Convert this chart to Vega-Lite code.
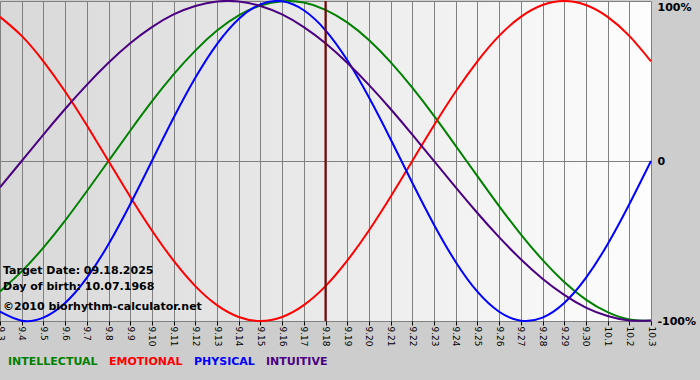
{
  "$schema": "https://vega.github.io/schema/vega-lite/v6.json",
  "width": 651,
  "height": 320,
  "autosize": {"type": "none"},
  "padding": {"left": 0, "top": 1, "right": 49, "bottom": 59},
  "background": "#cdcdcd",
  "view": {
    "stroke": null,
    "fill": {"gradient": "linear", "x1": 0, "y1": 0, "x2": 1, "y2": 0, "stops": [{"offset": 0, "color": "#d8d8d8"}, {"offset": 1, "color": "#fdfdfd"}]}
  },
  "config": {"font": "DejaVu Sans"},
  "datasets": {
    "bio": [
      {"date": "2025-09-03", "rhythm": "INTELLECTUAL", "value": -0.815},
      {"date": "2025-09-04", "rhythm": "INTELLECTUAL", "value": -0.690},
      {"date": "2025-09-05", "rhythm": "INTELLECTUAL", "value": -0.541},
      {"date": "2025-09-06", "rhythm": "INTELLECTUAL", "value": -0.372},
      {"date": "2025-09-07", "rhythm": "INTELLECTUAL", "value": -0.189},
      {"date": "2025-09-08", "rhythm": "INTELLECTUAL", "value": 0},
      {"date": "2025-09-09", "rhythm": "INTELLECTUAL", "value": 0.189},
      {"date": "2025-09-10", "rhythm": "INTELLECTUAL", "value": 0.372},
      {"date": "2025-09-11", "rhythm": "INTELLECTUAL", "value": 0.541},
      {"date": "2025-09-12", "rhythm": "INTELLECTUAL", "value": 0.690},
      {"date": "2025-09-13", "rhythm": "INTELLECTUAL", "value": 0.815},
      {"date": "2025-09-14", "rhythm": "INTELLECTUAL", "value": 0.910},
      {"date": "2025-09-15", "rhythm": "INTELLECTUAL", "value": 0.972},
      {"date": "2025-09-16", "rhythm": "INTELLECTUAL", "value": 0.999},
      {"date": "2025-09-17", "rhythm": "INTELLECTUAL", "value": 0.990},
      {"date": "2025-09-18", "rhythm": "INTELLECTUAL", "value": 0.945},
      {"date": "2025-09-19", "rhythm": "INTELLECTUAL", "value": 0.866},
      {"date": "2025-09-20", "rhythm": "INTELLECTUAL", "value": 0.756},
      {"date": "2025-09-21", "rhythm": "INTELLECTUAL", "value": 0.618},
      {"date": "2025-09-22", "rhythm": "INTELLECTUAL", "value": 0.458},
      {"date": "2025-09-23", "rhythm": "INTELLECTUAL", "value": 0.282},
      {"date": "2025-09-24", "rhythm": "INTELLECTUAL", "value": 0.095},
      {"date": "2025-09-25", "rhythm": "INTELLECTUAL", "value": -0.095},
      {"date": "2025-09-26", "rhythm": "INTELLECTUAL", "value": -0.282},
      {"date": "2025-09-27", "rhythm": "INTELLECTUAL", "value": -0.458},
      {"date": "2025-09-28", "rhythm": "INTELLECTUAL", "value": -0.618},
      {"date": "2025-09-29", "rhythm": "INTELLECTUAL", "value": -0.756},
      {"date": "2025-09-30", "rhythm": "INTELLECTUAL", "value": -0.866},
      {"date": "2025-10-01", "rhythm": "INTELLECTUAL", "value": -0.945},
      {"date": "2025-10-02", "rhythm": "INTELLECTUAL", "value": -0.990},
      {"date": "2025-10-03", "rhythm": "INTELLECTUAL", "value": -0.999},
      {"date": "2025-09-03", "rhythm": "EMOTIONAL", "value": 0.901},
      {"date": "2025-09-04", "rhythm": "EMOTIONAL", "value": 0.782},
      {"date": "2025-09-05", "rhythm": "EMOTIONAL", "value": 0.623},
      {"date": "2025-09-06", "rhythm": "EMOTIONAL", "value": 0.434},
      {"date": "2025-09-07", "rhythm": "EMOTIONAL", "value": 0.223},
      {"date": "2025-09-08", "rhythm": "EMOTIONAL", "value": 0},
      {"date": "2025-09-09", "rhythm": "EMOTIONAL", "value": -0.223},
      {"date": "2025-09-10", "rhythm": "EMOTIONAL", "value": -0.434},
      {"date": "2025-09-11", "rhythm": "EMOTIONAL", "value": -0.623},
      {"date": "2025-09-12", "rhythm": "EMOTIONAL", "value": -0.782},
      {"date": "2025-09-13", "rhythm": "EMOTIONAL", "value": -0.901},
      {"date": "2025-09-14", "rhythm": "EMOTIONAL", "value": -0.975},
      {"date": "2025-09-15", "rhythm": "EMOTIONAL", "value": -1},
      {"date": "2025-09-16", "rhythm": "EMOTIONAL", "value": -0.975},
      {"date": "2025-09-17", "rhythm": "EMOTIONAL", "value": -0.901},
      {"date": "2025-09-18", "rhythm": "EMOTIONAL", "value": -0.782},
      {"date": "2025-09-19", "rhythm": "EMOTIONAL", "value": -0.623},
      {"date": "2025-09-20", "rhythm": "EMOTIONAL", "value": -0.434},
      {"date": "2025-09-21", "rhythm": "EMOTIONAL", "value": -0.223},
      {"date": "2025-09-22", "rhythm": "EMOTIONAL", "value": 0},
      {"date": "2025-09-23", "rhythm": "EMOTIONAL", "value": 0.223},
      {"date": "2025-09-24", "rhythm": "EMOTIONAL", "value": 0.434},
      {"date": "2025-09-25", "rhythm": "EMOTIONAL", "value": 0.623},
      {"date": "2025-09-26", "rhythm": "EMOTIONAL", "value": 0.782},
      {"date": "2025-09-27", "rhythm": "EMOTIONAL", "value": 0.901},
      {"date": "2025-09-28", "rhythm": "EMOTIONAL", "value": 0.975},
      {"date": "2025-09-29", "rhythm": "EMOTIONAL", "value": 1},
      {"date": "2025-09-30", "rhythm": "EMOTIONAL", "value": 0.975},
      {"date": "2025-10-01", "rhythm": "EMOTIONAL", "value": 0.901},
      {"date": "2025-10-02", "rhythm": "EMOTIONAL", "value": 0.782},
      {"date": "2025-10-03", "rhythm": "EMOTIONAL", "value": 0.623},
      {"date": "2025-09-03", "rhythm": "PHYSICAL", "value": -0.942},
      {"date": "2025-09-04", "rhythm": "PHYSICAL", "value": -0.998},
      {"date": "2025-09-05", "rhythm": "PHYSICAL", "value": -0.979},
      {"date": "2025-09-06", "rhythm": "PHYSICAL", "value": -0.888},
      {"date": "2025-09-07", "rhythm": "PHYSICAL", "value": -0.731},
      {"date": "2025-09-08", "rhythm": "PHYSICAL", "value": -0.520},
      {"date": "2025-09-09", "rhythm": "PHYSICAL", "value": -0.270},
      {"date": "2025-09-10", "rhythm": "PHYSICAL", "value": 0},
      {"date": "2025-09-11", "rhythm": "PHYSICAL", "value": 0.270},
      {"date": "2025-09-12", "rhythm": "PHYSICAL", "value": 0.520},
      {"date": "2025-09-13", "rhythm": "PHYSICAL", "value": 0.731},
      {"date": "2025-09-14", "rhythm": "PHYSICAL", "value": 0.888},
      {"date": "2025-09-15", "rhythm": "PHYSICAL", "value": 0.979},
      {"date": "2025-09-16", "rhythm": "PHYSICAL", "value": 0.998},
      {"date": "2025-09-17", "rhythm": "PHYSICAL", "value": 0.942},
      {"date": "2025-09-18", "rhythm": "PHYSICAL", "value": 0.817},
      {"date": "2025-09-19", "rhythm": "PHYSICAL", "value": 0.631},
      {"date": "2025-09-20", "rhythm": "PHYSICAL", "value": 0.398},
      {"date": "2025-09-21", "rhythm": "PHYSICAL", "value": 0.136},
      {"date": "2025-09-22", "rhythm": "PHYSICAL", "value": -0.136},
      {"date": "2025-09-23", "rhythm": "PHYSICAL", "value": -0.398},
      {"date": "2025-09-24", "rhythm": "PHYSICAL", "value": -0.631},
      {"date": "2025-09-25", "rhythm": "PHYSICAL", "value": -0.817},
      {"date": "2025-09-26", "rhythm": "PHYSICAL", "value": -0.942},
      {"date": "2025-09-27", "rhythm": "PHYSICAL", "value": -0.998},
      {"date": "2025-09-28", "rhythm": "PHYSICAL", "value": -0.979},
      {"date": "2025-09-29", "rhythm": "PHYSICAL", "value": -0.888},
      {"date": "2025-09-30", "rhythm": "PHYSICAL", "value": -0.731},
      {"date": "2025-10-01", "rhythm": "PHYSICAL", "value": -0.520},
      {"date": "2025-10-02", "rhythm": "PHYSICAL", "value": -0.270},
      {"date": "2025-10-03", "rhythm": "PHYSICAL", "value": 0},
      {"date": "2025-09-03", "rhythm": "INTUITIVE", "value": -0.165},
      {"date": "2025-09-04", "rhythm": "INTUITIVE", "value": 0},
      {"date": "2025-09-05", "rhythm": "INTUITIVE", "value": 0.165},
      {"date": "2025-09-06", "rhythm": "INTUITIVE", "value": 0.325},
      {"date": "2025-09-07", "rhythm": "INTUITIVE", "value": 0.476},
      {"date": "2025-09-08", "rhythm": "INTUITIVE", "value": 0.614},
      {"date": "2025-09-09", "rhythm": "INTUITIVE", "value": 0.736},
      {"date": "2025-09-10", "rhythm": "INTUITIVE", "value": 0.837},
      {"date": "2025-09-11", "rhythm": "INTUITIVE", "value": 0.916},
      {"date": "2025-09-12", "rhythm": "INTUITIVE", "value": 0.969},
      {"date": "2025-09-13", "rhythm": "INTUITIVE", "value": 0.997},
      {"date": "2025-09-14", "rhythm": "INTUITIVE", "value": 0.997},
      {"date": "2025-09-15", "rhythm": "INTUITIVE", "value": 0.969},
      {"date": "2025-09-16", "rhythm": "INTUITIVE", "value": 0.916},
      {"date": "2025-09-17", "rhythm": "INTUITIVE", "value": 0.837},
      {"date": "2025-09-18", "rhythm": "INTUITIVE", "value": 0.736},
      {"date": "2025-09-19", "rhythm": "INTUITIVE", "value": 0.614},
      {"date": "2025-09-20", "rhythm": "INTUITIVE", "value": 0.476},
      {"date": "2025-09-21", "rhythm": "INTUITIVE", "value": 0.325},
      {"date": "2025-09-22", "rhythm": "INTUITIVE", "value": 0.165},
      {"date": "2025-09-23", "rhythm": "INTUITIVE", "value": 0},
      {"date": "2025-09-24", "rhythm": "INTUITIVE", "value": -0.165},
      {"date": "2025-09-25", "rhythm": "INTUITIVE", "value": -0.325},
      {"date": "2025-09-26", "rhythm": "INTUITIVE", "value": -0.476},
      {"date": "2025-09-27", "rhythm": "INTUITIVE", "value": -0.614},
      {"date": "2025-09-28", "rhythm": "INTUITIVE", "value": -0.736},
      {"date": "2025-09-29", "rhythm": "INTUITIVE", "value": -0.837},
      {"date": "2025-09-30", "rhythm": "INTUITIVE", "value": -0.916},
      {"date": "2025-10-01", "rhythm": "INTUITIVE", "value": -0.969},
      {"date": "2025-10-02", "rhythm": "INTUITIVE", "value": -0.997},
      {"date": "2025-10-03", "rhythm": "INTUITIVE", "value": -0.997}
    ],
    "target": [{"date": "2025-09-18"}],
    "notes": [
      {"date": "2025-09-03", "value": -0.69, "text": "Target Date: 09.18.2025"},
      {"date": "2025-09-03", "value": -0.785, "text": "Day of birth: 10.07.1968"},
      {"date": "2025-09-03", "value": -0.915, "text": "©2010 biorhythm-calculator.net"}
    ]
  },
  "layer": [
    {
      "data": {"name": "bio"},
      "mark": {"type": "line", "interpolate": "natural", "strokeWidth": 2},
      "encoding": {
        "x": {
          "field": "date", "type": "temporal", "title": null,
          "scale": {"type": "utc", "nice": false},
          "axis": {
            "format": "%-m.%-d",
            "tickCount": {"interval": "day", "step": 1},
            "labelAngle": 90,
            "labelFontSize": 9,
            "labelColor": "#000000",
            "labelPadding": 1,
            "labelOverlap": false,
            "labelBound": false,
            "labelFlush": false,
            "tickSize": 4,
            "tickColor": "#000000",
            "domain": false,
            "grid": true,
            "gridColor": "#808080",
            "gridOpacity": 1,
            "gridWidth": 1
          }
        },
        "y": {
          "field": "value", "type": "quantitative", "title": null,
          "scale": {"domain": [-1, 1], "nice": false},
          "axis": {
            "orient": "right",
            "values": [-1, 0, 1],
            "labelExpr": "datum.value == 1 ? '100%' : datum.value == 0 ? '0' : '-100%'",
            "labelFontSize": 11,
            "labelFontWeight": "bold",
            "labelColor": "#000000",
            "labelPadding": 6,
            "labelBaseline": {"condition": {"test": "datum.value == 1", "value": "top"}, "value": "middle"},
            "labelBound": false,
            "labelFlush": false,
            "ticks": false,
            "domain": false,
            "grid": true,
            "gridColor": "#808080",
            "gridOpacity": 1,
            "gridWidth": 1
          }
        },
        "color": {
          "field": "rhythm", "type": "nominal",
          "scale": {"domain": ["INTELLECTUAL", "EMOTIONAL", "PHYSICAL", "INTUITIVE"], "range": ["#008000", "#ff0000", "#0000ff", "#4b0082"]},
          "legend": {
            "orient": "none",
            "legendX": -3,
            "legendY": 355,
            "direction": "horizontal",
            "title": null,
            "symbolSize": 0,
            "symbolStrokeWidth": 0,
            "symbolOpacity": 0,
            "labelOffset": 0,
            "labelFontSize": 11,
            "labelFontWeight": "bold",
            "columnPadding": -3,
            "padding": 0,
            "encode": {"labels": {"update": {"fill": {"scale": "color", "field": "value"}}}}
          }
        }
      }
    },
    {
      "data": {"name": "target"},
      "mark": {"type": "rule", "color": "#800000", "strokeWidth": 2},
      "encoding": {
        "x": {"field": "date", "type": "temporal", "title": null}
      }
    },
    {
      "data": {"name": "notes"},
      "mark": {"type": "text", "align": "left", "baseline": "middle", "dx": 3, "fontSize": 11, "fontWeight": "bold", "color": "#000000"},
      "encoding": {
        "x": {"field": "date", "type": "temporal", "title": null},
        "y": {"field": "value", "type": "quantitative", "title": null},
        "text": {"field": "text"}
      }
    }
  ]
}
